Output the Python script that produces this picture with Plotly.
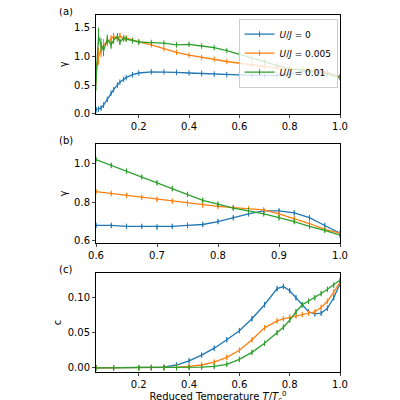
import plotly.graph_objects as go
from plotly.subplots import make_subplots

names = ["<i>U</i>/<i>J</i> = 0", "<i>U</i>/<i>J</i> = 0.005", "<i>U</i>/<i>J</i> = 0.01"]
colors = ["#1f77b4", "#ff7f0e", "#2ca02c"]

x_a = [0.03, 0.04, 0.05, 0.06, 0.075, 0.09, 0.1, 0.115, 0.125, 0.14, 0.15, 0.175, 0.2, 0.25, 0.3, 0.35, 0.4,
       0.45, 0.5, 0.55, 0.6, 0.65, 0.7, 0.75, 0.8, 0.85, 0.9, 0.95, 1.0]
gamma_a_0 = [0.07, 0.08, 0.1, 0.15, 0.25, 0.36, 0.42, 0.5, 0.55, 0.6, 0.63, 0.68, 0.71, 0.73, 0.73, 0.72, 0.71,
             0.70, 0.69, 0.68, 0.68, 0.67, 0.67, 0.67, 0.69, 0.74, 0.76, 0.72, 0.64]
gamma_a_1 = [0.7, 1.0, 1.1, 1.2, 1.25, 1.3, 1.35, 1.3, 1.36, 1.3, 1.32, 1.28, 1.25, 1.2, 1.13, 1.07, 1.02,
             0.98, 0.95, 0.91, 0.88, 0.85, 0.82, 0.8, 0.78, 0.77, 0.76, 0.71, 0.64]
gamma_a_2 = [0.6, 1.35, 1.2, 1.1, 1.3, 1.2, 1.28, 1.35, 1.25, 1.32, 1.3, 1.27, 1.25, 1.24, 1.23, 1.2, 1.21,
             1.18, 1.15, 1.1, 1.04, 0.97, 0.91, 0.84, 0.78, 0.76, 0.73, 0.69, 0.63]
err_a = [0.2, 0.15, 0.12, 0.1, 0.08, 0.07, 0.06, 0.05, 0.05, 0.04, 0.04, 0.03, 0.03, 0.02, 0.02, 0.02, 0.02,
         0.015, 0.015, 0.015, 0.015, 0.015, 0.015, 0.015, 0.015, 0.015, 0.015, 0.015, 0.015]

x_b = [0.6, 0.625, 0.65, 0.675, 0.7, 0.725, 0.75, 0.775, 0.8, 0.825, 0.85, 0.875, 0.9, 0.925, 0.95, 0.975, 1.0]
gamma_b_0 = [0.68, 0.68, 0.675, 0.675, 0.672, 0.675, 0.68, 0.685, 0.7, 0.72, 0.74, 0.755, 0.755, 0.745, 0.72, 0.68, 0.64]
gamma_b_1 = [0.855, 0.845, 0.835, 0.825, 0.815, 0.805, 0.795, 0.785, 0.778, 0.772, 0.765, 0.76, 0.74, 0.715, 0.69, 0.66, 0.64]
gamma_b_2 = [1.02, 0.99, 0.96, 0.93, 0.9, 0.87, 0.84, 0.81, 0.79, 0.77, 0.755, 0.74, 0.72, 0.7, 0.675, 0.655, 0.63]

x_c = [0.03, 0.1, 0.2, 0.25, 0.3, 0.35, 0.4, 0.45, 0.5, 0.55, 0.6, 0.65, 0.7, 0.75, 0.775, 0.8, 0.825, 0.85,
       0.875, 0.9, 0.925, 0.95, 0.975, 1.0]
c_0 = [0, 0, 0, 0.0005, 0.001, 0.004, 0.01, 0.018, 0.028, 0.04, 0.053, 0.07, 0.09, 0.113, 0.116, 0.11, 0.1, 0.09,
       0.08, 0.077, 0.078, 0.085, 0.1, 0.12]
c_1 = [0, 0, 0, 0, 0, 0.001, 0.002, 0.004, 0.008, 0.015, 0.025, 0.04, 0.057, 0.067, 0.07, 0.072, 0.074, 0.076,
       0.078, 0.08, 0.086, 0.095, 0.108, 0.122]
c_2 = [0, 0, 0, 0, 0, 0, 0.0005, 0.001, 0.002, 0.005, 0.012, 0.022, 0.035, 0.05, 0.058, 0.068, 0.08, 0.09,
       0.095, 0.1, 0.106, 0.112, 0.118, 0.125]

fig = make_subplots(rows=3, cols=1, vertical_spacing=0.085)

for i, (ya, yb, yc) in enumerate(zip([gamma_a_0, gamma_a_1, gamma_a_2],
                                     [gamma_b_0, gamma_b_1, gamma_b_2],
                                     [c_0, c_1, c_2])):
    style = dict(mode="lines+markers", line=dict(color=colors[i], width=1.3),
                 marker=dict(symbol="line-ns", size=4, line=dict(color=colors[i], width=1)))
    fig.add_trace(go.Scatter(x=x_a, y=ya, name=names[i],
                             error_y=dict(array=err_a if i else [e / 4 for e in err_a], color=colors[i], thickness=1, width=0),
                             **style), row=1, col=1)
    fig.add_trace(go.Scatter(x=x_b, y=yb, showlegend=False, error_y=dict(array=[0.01] * len(x_b), color=colors[i], thickness=1, width=0),
                             **style), row=2, col=1)
    fig.add_trace(go.Scatter(x=x_c, y=yc, showlegend=False, error_y=dict(array=[0.003] * len(x_c), color=colors[i], thickness=1, width=0),
                             **style), row=3, col=1)

ax = dict(showline=True, mirror=True, linecolor="black", linewidth=1, ticks="outside",
          ticklen=3, showgrid=False, zeroline=False, tickfont=dict(size=10, color="black"))
fig.update_xaxes(**ax)
fig.update_yaxes(**ax)
fig.update_xaxes(range=[0.03, 1.0], tickvals=[0.2, 0.4, 0.6, 0.8, 1.0], ticktext=["0.2", "0.4", "0.6", "0.8", "1.0"], row=1, col=1)
fig.update_xaxes(range=[0.6, 1.0], tickvals=[0.6, 0.7, 0.8, 0.9, 1.0], ticktext=["0.6", "0.7", "0.8", "0.9", "1.0"], row=2, col=1)
fig.update_xaxes(range=[0.03, 1.0], tickvals=[0.2, 0.4, 0.6, 0.8, 1.0], ticktext=["0.2", "0.4", "0.6", "0.8", "1.0"],
                 title=dict(text="Reduced Temperature <i>T</i>/<i>T</i><sub>c</sub><sup>0</sup>", font=dict(size=10), standoff=0),
                 row=3, col=1)
fig.update_yaxes(range=[0, 1.72], tickvals=[0, 0.5, 1.0, 1.5], ticktext=["0.0", "0.5", "1.0", "1.5"],
                 title=dict(text="γ", font=dict(size=10), standoff=4), row=1, col=1)
fig.update_yaxes(range=[0.59, 1.1], tickvals=[0.6, 0.8, 1.0], ticktext=["0.6", "0.8", "1.0"],
                 title=dict(text="γ", font=dict(size=10), standoff=4), row=2, col=1)
fig.update_yaxes(range=[-0.006, 0.135], tickvals=[0, 0.05, 0.1], ticktext=["0.00", "0.05", "0.10"],
                 title=dict(text="c", font=dict(size=10), standoff=4), row=3, col=1)

for lab, ref in [("(a)", "y domain"), ("(b)", "y2 domain"), ("(c)", "y3 domain")]:
    fig.add_annotation(text=lab, xref="paper", yref=ref, x=-0.16, y=1.04, showarrow=False,
                       xanchor="left", yanchor="middle", font=dict(size=10, color="black"))

fig.update_layout(width=400, height=400, margin=dict(l=88, r=68, t=7, b=36),
                  plot_bgcolor="white", paper_bgcolor="white",
                  font=dict(family="DejaVu Sans", color="black"),
                  legend=dict(x=0.99, y=0.99, xanchor="right", yanchor="top", bordercolor="#cccccc",
                              borderwidth=1, font=dict(size=9), bgcolor="rgba(255,255,255,0.8)",
                              tracegroupgap=0, itemwidth=30))
fig.write_html("out.html")
